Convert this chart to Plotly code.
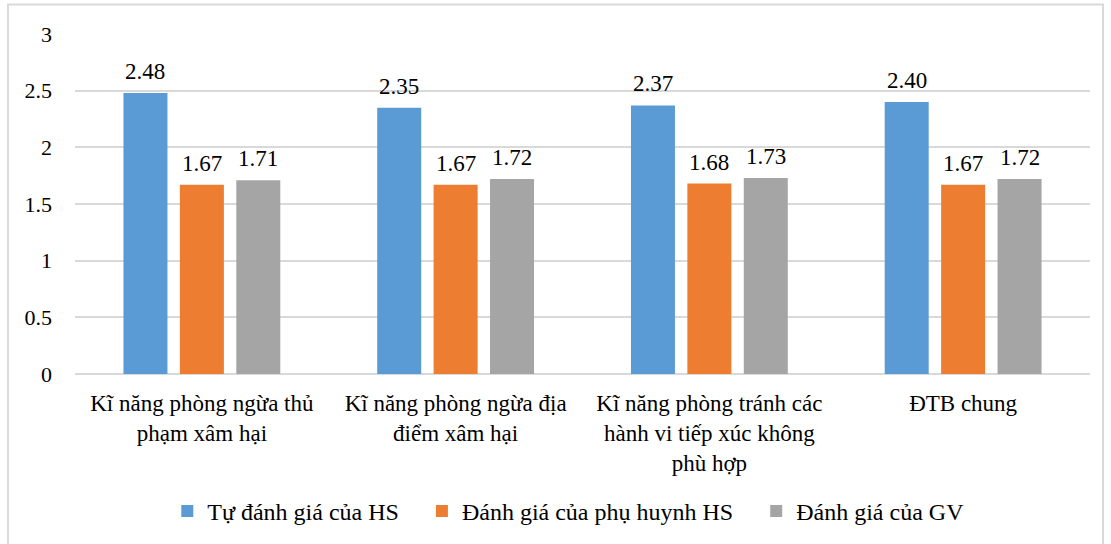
import plotly.graph_objects as go

categories = [
    "Kĩ năng phòng ngừa thủ<br>phạm xâm hại",
    "Kĩ năng phòng ngừa địa<br>điểm xâm hại",
    "Kĩ năng phòng tránh các<br>hành vi tiếp xúc không<br>phù hợp",
    "ĐTB chung",
]
series_names = ["Tự đánh giá của HS", "Đánh giá của phụ huynh HS", "Đánh giá của GV"]
hs_values = [2.48, 2.35, 2.37, 2.40]
ph_values = [1.67, 1.67, 1.68, 1.67]
gv_values = [1.71, 1.72, 1.73, 1.72]
colors = ["#5b9bd5", "#ed7d31", "#a5a5a5"]
y_ticks = [0, 0.5, 1, 1.5, 2, 2.5, 3]

FONT = "Liberation Serif"

fig = go.Figure()
all_vals = [hs_values, ph_values, gv_values]
pads = ["\u00a0" * 3, "\u00a0" * 3, ""]
for i, (name, vals, col) in enumerate(zip(series_names, all_vals, colors)):
    fig.add_trace(go.Bar(
        x=categories, y=vals, name=name + pads[i],
        marker=dict(color=col, line=dict(width=0)),
        cliponaxis=False,
    ))

# value labels above each bar
slot_px = 56.5
annotations = []
for i, vals in enumerate(all_vals):
    for cat, v in zip(categories, vals):
        annotations.append(dict(
            x=cat, y=v, xref="x", yref="y", text=f"{v:.2f}", showarrow=False,
            xshift=(i - 1) * slot_px, yshift=7, yanchor="bottom",
            font=dict(family=FONT, size=23, color="black"),
        ))

fig.update_layout(
    width=1111, height=544,
    barmode="group", bargap=0.333, bargroupgap=0.22,
    paper_bgcolor="white", plot_bgcolor="white",
    margin=dict(l=75, r=21, t=34, b=169),
    font=dict(family=FONT, size=22, color="black"),
    showlegend=True,
    legend=dict(orientation="h", x=0.486, xanchor="center", y=-0.4, yanchor="middle",
                font=dict(family=FONT, size=24, color="black"),
                itemwidth=30, tracegroupgap=0),
    xaxis=dict(showgrid=False, showline=False, ticks="", tickfont=dict(family=FONT, size=23),
               ticklabelstandoff=13),
    yaxis=dict(range=[0, 3], tickvals=y_ticks, ticktext=[f"{t:g}" for t in y_ticks],
               showgrid=True, gridcolor="#d9d9d9", gridwidth=1.5,
               zeroline=True, zerolinecolor="#d9d9d9", zerolinewidth=2,
               showline=False, ticks="", tickfont=dict(family=FONT, size=22),
               ticklabelstandoff=22),
    annotations=annotations,
    shapes=[dict(type="rect", xref="paper", yref="paper", x0=-0.066, x1=1.0128,
                 y0=-0.6, y1=1.087, line=dict(color="#d9d9d9", width=2),
                 fillcolor="rgba(0,0,0,0)", layer="below")],
)

fig.write_html("out.html", config={"displayModeBar": False},
               post_script="document.body.style.margin='0';")
